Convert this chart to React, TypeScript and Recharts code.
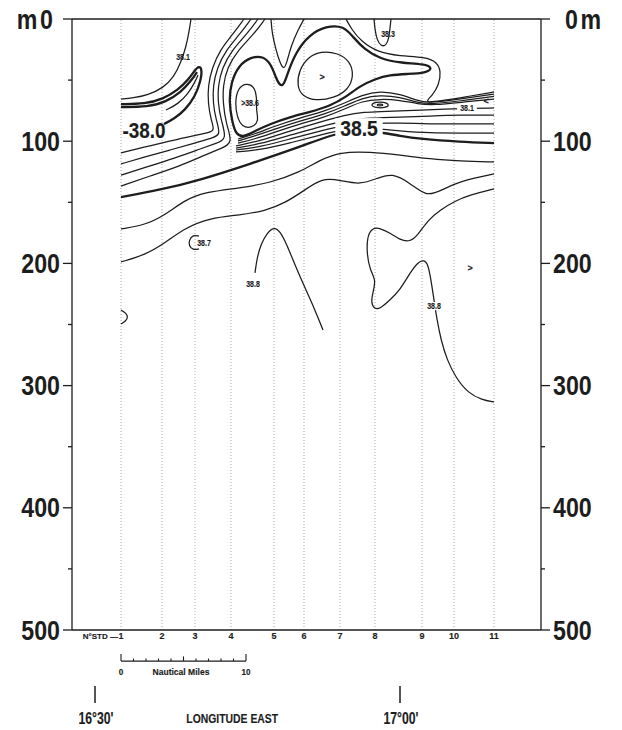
import React from 'react';
import { ComposedChart, Line, XAxis, YAxis, ReferenceLine, ReferenceDot } from 'recharts';

type P = [number, number];

// x: distance along section (nautical miles from station 1), y: depth (m)
const stationDist = [0, 3.28, 5.92, 8.8, 12.24, 14.64, 17.52, 20.32, 24.08, 26.64, 29.84];
const stationLabels = ['1', '2', '3', '4', '5', '6', '7', '8', '9', '10', '11'];
const depthTicks = [0, 50, 100, 150, 200, 250, 300, 350, 400, 450, 500];
const scaleBarMiles = [0, 1, 2, 3, 4, 5, 6, 7, 8, 9, 10];
const longitudeMarks = [
  { x: -2.08, t: "16°30'" },
  { x: 22.32, t: "17°00'" },
];

// ---- isohalines (thin) ----
const iso381Left: P[] = [[5.6, 0], [5.44, 10.6], [5.2, 22.9], [4.8, 35.2], [4.24, 47.5], [3.36, 56.5], [2.16, 62.2], [0.96, 64.6], [0, 65.5]];
const hookThin: P[] = [[3.6, 74.5], [4.56, 69.6], [5.36, 61.4], [5.92, 51.6], [6.16, 45.8]];
const arc1: P[] = [[0, 109.6], [1.92, 104.7], [3.92, 99.8], [5.68, 95.7], [6.88, 93.3], [7.52, 91.6], [7.2, 82.7], [6.96, 68.7], [6.96, 54.8], [7.28, 40.1], [7.92, 25.4], [8.96, 12.3], [9.84, 0]];
const arc2: P[] = [[0, 118.6], [1.92, 112.9], [3.92, 107.2], [5.92, 101.5], [7.28, 97.4], [8.0, 94.9], [7.6, 82.7], [7.36, 68.7], [7.36, 54.8], [7.68, 40.1], [8.4, 25.4], [9.52, 12.3], [10.4, 0]];
const arc3: P[] = [[0, 127.7], [2.32, 120.3], [4.32, 113.7], [6.32, 106.4], [7.68, 101.5], [8.48, 98.2], [8.0, 82.7], [7.76, 68.7], [7.76, 54.8], [8.08, 40.1], [8.88, 25.4], [10.08, 12.3], [10.96, 0]];
const arc4: P[] = [[0, 136.7], [2.32, 128.5], [4.72, 120.3], [6.72, 111.3], [8.08, 105.6], [8.96, 101.5], [8.4, 85.9], [8.16, 68.7], [8.16, 54.8], [8.48, 40.1], [9.36, 25.4], [10.64, 12.3], [11.52, 0]];
const sTongue: P[] = [[12.0, 0], [12.08, 11.5], [12.4, 25.4], [12.72, 36.0], [13.04, 41.7], [13.28, 35.2], [13.6, 22.1], [14.16, 9.0], [14.64, 0]];
const fingerOuter: P[] = [[18.0, 0], [18.48, 9.0], [19.2, 18.0], [20.48, 27.0], [22.32, 30.3], [24.32, 31.1], [25.28, 35.2], [25.6, 42.6], [25.44, 54.0], [24.88, 63.0], [24.24, 68.7], [25.52, 67.1], [27.52, 63.8], [29.84, 59.7]];
const iso383: P[] = [[20.24, 0], [20.32, 9.0], [20.48, 17.2], [20.8, 22.1], [21.2, 22.1], [21.44, 15.5], [21.52, 7.4], [21.6, 0]];
const fan1: P[] = [[9.36, 98.2], [10.72, 94.1], [12.32, 87.6], [14.32, 81.0], [16.32, 75.3], [17.92, 68.7], [19.28, 62.2], [20.72, 58.9], [22.32, 61.4], [23.76, 67.1], [24.72, 68.7], [27.12, 65.5], [29.84, 61.4]];
const fan2: P[] = [[9.36, 99.8], [10.72, 95.7], [12.32, 90.0], [14.32, 83.5], [16.32, 77.7], [17.92, 71.2], [19.28, 64.6], [20.72, 62.2], [22.32, 63.8], [23.76, 68.7], [24.88, 69.6], [27.12, 67.1], [29.84, 63.4]];
const fan3: P[] = [[9.36, 101.5], [10.72, 98.2], [12.32, 92.5], [14.32, 85.9], [16.32, 80.2], [17.92, 73.6], [19.28, 67.1], [20.72, 65.5], [22.32, 66.3], [23.76, 69.6], [25.04, 70.4], [27.12, 68.3], [29.84, 65.5]];
const right1: P[] = [[9.2, 103.9], [11.12, 99.8], [13.52, 91.6], [15.92, 84.3], [17.92, 78.6], [19.52, 76.1], [20.72, 75.7], [22.32, 75.3], [23.92, 74.5], [25.92, 73.6], [27.92, 73.2], [29.84, 72.8]];
const right2: P[] = [[9.2, 105.6], [11.12, 102.3], [13.52, 94.9], [15.92, 88.4], [17.92, 82.7], [19.92, 81.0], [22.32, 80.2], [24.72, 79.4], [27.12, 78.6], [29.84, 78.6]];
const right3: P[] = [[9.2, 107.2], [11.12, 104.7], [13.52, 98.2], [15.92, 91.6], [17.92, 86.7], [19.92, 85.1], [22.32, 85.1], [24.72, 85.9], [27.12, 85.9], [29.84, 85.9]];
const right4: P[] = [[9.2, 108.8], [11.12, 107.2], [13.52, 101.5], [15.92, 94.9], [17.92, 90.0], [19.92, 89.2], [22.32, 91.6], [24.72, 93.3], [27.12, 93.3], [29.84, 93.3]];
const iso386: P[] = [[0, 171.8], [1.92, 168.6], [3.52, 160.4], [5.12, 148.1], [6.72, 141.6], [9.52, 138.3], [11.92, 134.2], [14.32, 125.2], [15.92, 115.4], [17.52, 108.8], [19.92, 108.8], [22.32, 111.3], [24.72, 114.6], [27.12, 116.2], [29.84, 117.0]];
const iso387: P[] = [[0, 198.8], [1.92, 193.1], [3.52, 183.3], [5.12, 171.0], [7.12, 162.8], [9.52, 160.4], [11.52, 157.1], [13.12, 150.6], [14.72, 139.9], [16.08, 130.1], [17.52, 131.8], [19.12, 135.8], [20.56, 130.1], [21.68, 126.0], [23.12, 134.2], [24.48, 145.7], [25.68, 139.9], [27.12, 132.6], [29.84, 126.8]];
const iso387Cell: P[] = [[6.24, 177.6], [5.76, 176.7], [5.44, 180.8], [5.44, 185.8], [5.76, 189.0], [6.24, 188.2]];
const iso388Left: P[] = [[10.72, 207.8], [10.88, 195.6], [11.2, 184.1], [11.68, 175.1], [12.24, 170.2], [12.72, 173.5], [13.28, 184.9], [13.92, 201.3], [14.72, 220.1], [15.52, 238.1], [16.16, 254.5]];
const iso388Right: P[] = [[29.84, 139.1], [27.92, 144.0], [26.72, 148.9], [25.52, 156.3], [24.56, 164.5], [23.76, 176.7], [23.12, 182.5], [22.32, 180.8], [21.52, 175.1], [20.72, 171.0], [20.08, 171.0], [19.68, 178.4], [19.68, 193.1], [19.92, 205.4], [20.4, 213.6], [20.16, 223.4], [20.0, 231.6], [20.24, 237.3], [20.72, 237.3], [21.52, 229.9], [22.32, 221.8], [23.12, 207.8], [23.76, 198.8], [24.24, 197.2], [24.56, 200.5], [24.8, 213.6], [25.04, 229.9], [25.28, 246.3], [25.6, 262.7], [26.08, 279.0], [26.8, 293.8], [27.76, 306.0], [28.88, 311.8], [29.84, 313.4]];
const edgeArc: P[] = [[0, 238.1], [0.4, 240.6], [0.56, 243.9], [0.4, 247.1], [0, 249.6]];

// closed thin loops
const loop386a: P[] = [[9.36, 56.5], [10.0, 52.4], [10.64, 54.8], [10.88, 63.8], [10.8, 74.5], [11.04, 83.5], [10.48, 89.2], [9.68, 88.4], [9.28, 80.2], [9.12, 67.9]];
const loop386b: P[] = [[14.24, 41.7], [14.96, 31.1], [16.0, 26.2], [17.36, 27.8], [18.32, 34.4], [18.64, 46.6], [18.16, 58.1], [17.04, 64.6], [15.6, 67.1], [14.48, 63.0], [14.08, 54.8]];
const eye: P[] = [[19.92, 70.4], [20.4, 67.9], [21.04, 67.9], [21.52, 70.4], [21.12, 72.8], [20.4, 72.8]];
const eyeInner: P[] = [[20.4, 70.4], [20.72, 69.4], [21.04, 70.4], [20.72, 71.4]];

// ---- thick isohalines (38.0 and 38.5) ----
const hookOuter: P[] = [[0, 69.6], [1.92, 69.6], [3.36, 65.5], [4.56, 58.1], [5.44, 49.1], [5.92, 41.7], [6.24, 38.5], [6.48, 40.9], [6.4, 49.9], [5.92, 63.8], [5.12, 74.5], [4.24, 81.8], [3.44, 85.9]];
const hookInner: P[] = [[0, 72.0], [2.16, 72.0], [3.6, 67.9], [4.8, 59.7], [5.6, 50.7], [6.08, 43.4]];
const iso385Main: P[] = [[0, 145.7], [3.12, 139.9], [6.32, 131.8], [10.32, 118.6], [14.32, 104.7], [17.2, 93.3], [18.96, 91.6], [20.8, 92.5], [22.32, 95.7], [23.92, 98.2], [27.12, 100.6], [29.84, 101.5]];
const iso385Lens: P[] = [[8.88, 83.5], [8.64, 67.9], [8.8, 51.6], [9.44, 37.6], [10.4, 31.1], [11.36, 30.3], [12.0, 36.8], [12.4, 48.3], [12.72, 54.8], [13.04, 54.0], [13.36, 43.4], [14.0, 27.0], [15.04, 13.1], [16.4, 5.7], [17.84, 5.7], [18.56, 14.7], [19.44, 24.5], [20.72, 32.7], [22.48, 36.0], [24.24, 36.8], [24.96, 40.1], [24.4, 44.2], [22.88, 45.0], [21.52, 45.8], [20.32, 49.1], [19.12, 54.8], [18.0, 63.8], [16.72, 71.2], [15.12, 76.1], [13.52, 80.2], [11.92, 85.9], [10.72, 91.6], [9.84, 96.6], [9.2, 94.9]];

const thinOpenLeft = [iso381Left, hookThin, arc1, arc2, arc3, arc4, sTongue, fingerOuter, iso383, fan1, fan2, fan3, right1, right2, right3, right4, iso386, iso387, iso387Cell, iso388Left, edgeArc];
const thinOpenRight = [iso388Right];
const thinClosed = [loop386a, loop386b, eye, eyeInner];
const thickOpen = [hookOuter, hookInner, iso385Main];
const thickClosed = [iso385Lens];

// ---- contour annotations ----
const smallLabels = [
  { x: 4.96, y: 31.1, t: '38.1' },
  { x: 10.32, y: 68.7, t: '>38.6' },
  { x: 21.36, y: 12.3, t: '38.3' },
  { x: 6.64, y: 183.3, t: '38.7' },
  { x: 10.56, y: 216.9, t: '38.8' },
];
const smallBgLabels = [
  { x: 27.68, y: 72.8, t: '38.1' },
  { x: 25.04, y: 234.9, t: '38.8' },
];
const markers = [
  { x: 16.08, y: 47.5, t: '>' },
  { x: 29.2, y: 67.1, t: '<' },
  { x: 27.92, y: 203.8, t: '>' },
];
const bigLabels = [{ x: 1.84, y: 90.8, t: '-38.0' }];
const bigBgLabels = [{ x: 19.04, y: 89.2, t: '38.5' }];

const INK = '#1d1d1d';
const FONT = '"Liberation Sans", Arial, Helvetica, sans-serif';

const toPts = (a: P[]) => a.map(([x, y]) => ({ x, y }));

function LeftTick(props: any) {
  const { x, y, payload } = props;
  const v = payload.value;
  const major = v % 100 === 0;
  return (
    <g>
      <line x1={x - (major ? 9 : 4)} x2={x} y1={y} y2={y} stroke={INK} strokeWidth={1.3} />
      {major && (
        <text transform={`translate(${x - (v === 0 ? 19 : 12)},${y}) scale(0.86,1)`} textAnchor="end" dominantBaseline="central" fontFamily={FONT} fontSize={27} fontWeight={700} fill={INK}>
          {v === 0 ? (<><tspan>m</tspan><tspan dx={3}>0</tspan></>) : String(v)}
        </text>
      )}
    </g>
  );
}

function RightTick(props: any) {
  const { x, y, payload } = props;
  const v = payload.value;
  const major = v % 100 === 0;
  return (
    <g>
      <line x1={x} x2={x + (major ? 9 : 4)} y1={y} y2={y} stroke={INK} strokeWidth={1.3} />
      {major && (
        <text transform={`translate(${x + (v === 0 ? 24 : 12)},${y}) scale(0.86,1)`} textAnchor="start" dominantBaseline="central" fontFamily={FONT} fontSize={27} fontWeight={700} fill={INK}>
          {v === 0 ? (<><tspan>0</tspan><tspan dx={3}>m</tspan></>) : String(v)}
        </text>
      )}
    </g>
  );
}

function StationTick(props: any) {
  const { x, y, payload } = props;
  const idx = stationDist.indexOf(payload.value);
  return (
    <g>
      <text x={x} y={y + 6} textAnchor="middle" dominantBaseline="central" fontFamily={FONT} fontSize={9} fontWeight={700} fill={INK} stroke={INK} strokeWidth={0.15}>
        {stationLabels[idx]}
      </text>
      {idx === 0 && (
        <text x={x - 3} y={y + 6} textAnchor="end" dominantBaseline="central" fontFamily={FONT} fontSize={8} fontWeight={700} fill={INK} stroke={INK} strokeWidth={0.15}>
          N°STD —
        </text>
      )}
    </g>
  );
}

function textDot(key: string, x: number, y: number, t: string, size: number, opts: { bold?: boolean; sx?: number; bg?: boolean } = {}) {
  const sx = opts.sx ?? 0.88;
  return (
    <ReferenceDot
      key={key}
      x={x}
      y={y}
      yAxisId="l"
      r={1}
      ifOverflow="visible"
      isFront
      shape={(p: any) => {
        const w = t.length * size * 0.56 * sx + 4;
        return (
          <g>
            {opts.bg && <rect x={p.cx - w / 2} y={p.cy - size * 0.45} width={w} height={size * 0.9} fill="#fff" />}
            <text transform={`translate(${p.cx},${p.cy}) scale(${sx},1)`} textAnchor="middle" dominantBaseline="central" fontFamily={FONT} fontSize={size} fontWeight={opts.bold ? 700 : 400} fill={INK} stroke={INK} strokeWidth={0.15}>
              {t}
            </text>
          </g>
        );
      }}
    />
  );
}

const lineProps = { dataKey: 'y', dot: false, activeDot: false, isAnimationActive: false, legendType: 'none' as const, stroke: INK };

export default function App() {
  return (
    <div style={{ position: 'absolute', left: 0, top: 0, width: 622, height: 730, background: '#fff' }}>
      <ComposedChart width={622} height={730} margin={{ top: 19, right: 0, bottom: 80, left: 0 }}>
        <XAxis
          xAxisId={0}
          dataKey="x"
          type="number"
          domain={[-3.92, 33.6]}
          ticks={stationDist}
          interval={0}
          height={20}
          tickSize={0}
          tickMargin={0}
          tickLine={false}
          axisLine={{ stroke: INK, strokeWidth: 1.3 }}
          tick={<StationTick />}
        />
        <YAxis
          yAxisId="l"
          orientation="left"
          type="number"
          domain={[0, 500]}
          reversed
          ticks={depthTicks}
          interval={0}
          width={72}
          tickSize={0}
          tickMargin={0}
          tickLine={false}
          axisLine={{ stroke: INK, strokeWidth: 1.3 }}
          tick={<LeftTick />}
        />
        <YAxis
          yAxisId="r"
          orientation="right"
          type="number"
          domain={[0, 500]}
          reversed
          ticks={depthTicks}
          interval={0}
          width={81}
          tickSize={0}
          tickMargin={0}
          tickLine={false}
          axisLine={{ stroke: INK, strokeWidth: 1.3 }}
          tick={<RightTick />}
        />

        {stationDist.map((s) => (
          <ReferenceLine key={'st' + s} x={s} yAxisId="l" stroke="#a9a9a9" strokeWidth={1} strokeDasharray="1 2" />
        ))}
        <ReferenceLine y={0} yAxisId="l" stroke={INK} strokeWidth={1.3} />

        {thinOpenLeft.map((c, i) => (
          <Line key={'to' + i} {...lineProps} data={toPts(c)} yAxisId="l" type="basis" strokeWidth={1.25} />
        ))}
        {thinOpenRight.map((c, i) => (
          <Line key={'tr' + i} {...lineProps} data={toPts(c)} yAxisId="r" type="basis" strokeWidth={1.25} />
        ))}
        {thinClosed.map((c, i) => (
          <Line key={'tc' + i} {...lineProps} data={toPts(c)} yAxisId="l" type="basisClosed" strokeWidth={1.25} />
        ))}
        {thickOpen.map((c, i) => (
          <Line key={'ko' + i} {...lineProps} data={toPts(c)} yAxisId="l" type="basis" strokeWidth={2.3} />
        ))}
        {thickClosed.map((c, i) => (
          <Line key={'kc' + i} {...lineProps} data={toPts(c)} yAxisId="l" type="basisClosed" strokeWidth={2.3} />
        ))}

        {smallLabels.map((l, i) => textDot('sl' + i, l.x, l.y, l.t, 9, { bold: true, sx: 0.78 }))}
        {smallBgLabels.map((l, i) => textDot('sb' + i, l.x, l.y, l.t, 9, { bold: true, sx: 0.78, bg: true }))}
        {markers.map((l, i) => textDot('mk' + i, l.x, l.y, l.t, 9, { bold: true, sx: 1 }))}
        {bigLabels.map((l, i) => textDot('bl' + i, l.x, l.y, l.t, 22, { sx: 0.86, bold: true }))}
        {bigBgLabels.map((l, i) => textDot('bb' + i, l.x, l.y, l.t, 22, { sx: 0.88, bold: true, bg: true }))}

        {/* distance scale bar */}
        <ReferenceLine yAxisId="l" ifOverflow="visible" stroke={INK} strokeWidth={1.2} segment={[{ x: scaleBarMiles[0], y: 525.4 }, { x: scaleBarMiles[10], y: 525.4 }]} />
        {scaleBarMiles.map((m, i) => (
          <ReferenceLine key={'sb' + m} yAxisId="l" ifOverflow="visible" stroke={INK} strokeWidth={1.1}
            segment={[{ x: m, y: 525.4 }, { x: m, y: i === 0 || i === 10 ? 519.6 : i === 5 ? 521.6 : 523.4 }]} />
        ))}
        {textDot('sb0', scaleBarMiles[0], 534.6, '0', 9, { bold: true, sx: 0.9 })}
        {textDot('sb10', scaleBarMiles[10], 534.6, '10', 9, { bold: true, sx: 0.9 })}
        {textDot('sbt', 4.8, 534.6, 'Nautical Miles', 9, { bold: true, sx: 0.95 })}

        {/* longitude marks */}
        {longitudeMarks.map((l) => (
          <ReferenceLine key={'lg' + l.x} yAxisId="l" ifOverflow="visible" stroke={INK} strokeWidth={1.5} segment={[{ x: l.x, y: 545.8 }, { x: l.x, y: 559.7 }]} />
        ))}
        {longitudeMarks.map((l, i) => textDot('lgt' + i, l.x + 0.08, 572, l.t, 17, { sx: 0.72, bold: true }))}
        {textDot('lgx', 8.9, 572, 'LONGITUDE EAST', 13, { sx: 0.8, bold: true })}
      </ComposedChart>
    </div>
  );
}
